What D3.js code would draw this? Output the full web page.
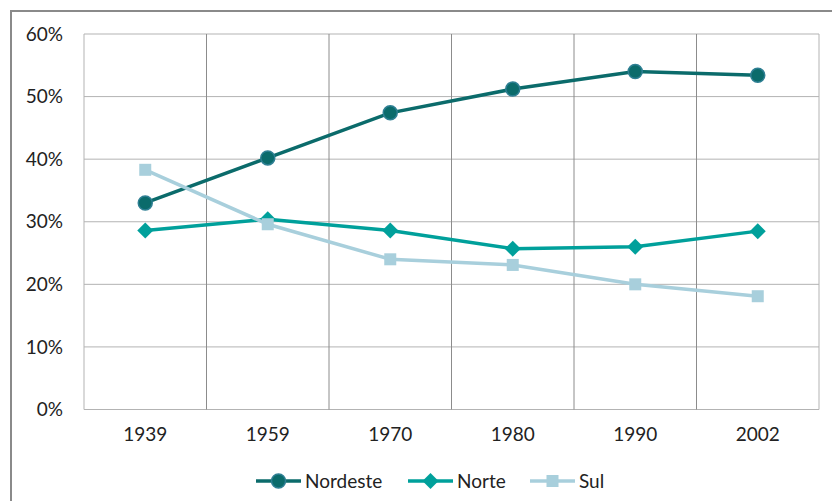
<!DOCTYPE html>
<html><head><meta charset="utf-8">
<script src="https://cdn.jsdelivr.net/npm/d3@7"></script>
<style>body{margin:0;background:#fff}svg{display:block}</style>
</head><body>
<svg id="c" width="832" height="501"></svg>
<script>
const years = ["1939","1959","1970","1980","1990","2002"];
const nordeste = [33.0, 40.2, 47.4, 51.2, 54.0, 53.4];
const norte = [28.6, 30.4, 28.6, 25.7, 26.0, 28.5];
const sul = [38.3, 29.6, 24.0, 23.1, 20.0, 18.1];
const yTicks = [0,10,20,30,40,50,60];
const seriesNames = ["Nordeste","Norte","Sul"];
const colors = ["#0b6b6b","#00a09b","#a8cfdc"];

const svg = d3.select("#c");
const font = "Lato, 'Open Sans', sans-serif";
const fs = 19;
const L=84, R=819, T=34, B=409.5;
svg.append("rect").attr("x",11).attr("y",11).attr("width",840).attr("height",520)
  .attr("fill","none").attr("stroke","#8a8a8a").attr("stroke-width",2);

const x = d3.scaleBand().domain(years).range([L,R]);
const y = d3.scaleLinear().domain([0,60]).range([B,T]);

svg.append("g").selectAll("line").data(yTicks).join("line")
  .attr("x1",L).attr("x2",R).attr("y1",d=>y(d)).attr("y2",d=>y(d))
  .attr("stroke","#b3b3b3").attr("stroke-width",1);
const bounds = years.map(d=>x(d)).concat([R]);
svg.append("g").selectAll("line").data(bounds).join("line")
  .attr("x1",d=>d).attr("x2",d=>d).attr("y1",T).attr("y2",B)
  .attr("stroke",(d,i)=>(i===0||i===bounds.length-1)?"#b3b3b3":"#8c8c8c").attr("stroke-width",1);

const yAxis = d3.axisLeft(y).tickValues(yTicks).tickFormat(d=>d+"%").tickSize(0).tickPadding(21);
const ga = svg.append("g").attr("transform",`translate(${L},0)`).call(yAxis);
ga.select(".domain").remove();
ga.selectAll("text").attr("font-family",font).attr("font-size",fs).attr("fill","#222");
const xAxis = d3.axisBottom(x).tickSize(0).tickPadding(18);
const gx = svg.append("g").attr("transform",`translate(0,${B})`).call(xAxis);
gx.select(".domain").remove();
gx.selectAll("text").attr("font-family",font).attr("font-size",fs).attr("fill","#222");

const cx = d=>x(d)+x.bandwidth()/2;
const data = [nordeste,norte,sul];
const line = d3.line().x((d,i)=>cx(years[i])).y(d=>y(d));
function marker(g,k,px,py){
  if(k===0) g.append("circle").attr("cx",px).attr("cy",py).attr("r",7).attr("fill",colors[0]).attr("stroke","#2e7f93").attr("stroke-width",1.5);
  else if(k===1) g.append("path").attr("d",`M${px},${py-8}L${px+8},${py}L${px},${py+8}L${px-8},${py}Z`).attr("fill",colors[1]);
  else g.append("rect").attr("x",px-6).attr("y",py-6).attr("width",12).attr("height",12).attr("fill",colors[2]);
}
data.forEach((s,k)=>{
  const g = svg.append("g");
  g.append("path").datum(s).attr("d",line).attr("fill","none").attr("stroke",colors[k]).attr("stroke-width",3.5);
  s.forEach((v,i)=>marker(g,k,cx(years[i]),y(v)));
});

const lx = [256,408,530];
const lg = svg.append("g");
seriesNames.forEach((n,k)=>{
  const ly=481;
  lg.append("line").attr("x1",lx[k]).attr("x2",lx[k]+45).attr("y1",ly).attr("y2",ly).attr("stroke",colors[k]).attr("stroke-width",3.5);
  marker(lg,k,lx[k]+22.5,ly);
  lg.append("text").attr("x",lx[k]+49).attr("y",ly+7).text(n).attr("font-family",font).attr("font-size",fs).attr("fill","#222");
});
</script>
</body></html>
